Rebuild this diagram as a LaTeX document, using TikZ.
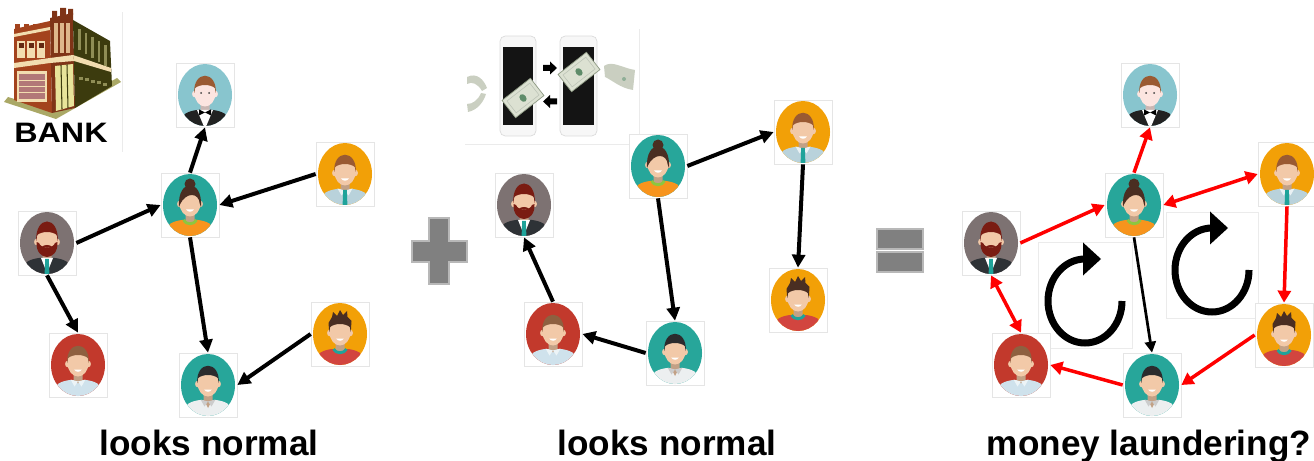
\documentclass[tikz,border=0pt]{standalone}
\usepackage{fontspec}
\usepackage{graphicx}
\usetikzlibrary{arrows.meta}
\newfontfamily\arialfont{Liberation Sans}

\definecolor{bluebg}{HTML}{88C5CE}
\definecolor{tealbg}{HTML}{27A69A}
\definecolor{orangebg}{HTML}{F2A007}
\definecolor{greybg}{HTML}{7D7272}
\definecolor{redbg}{HTML}{C2392C}
\definecolor{skin}{HTML}{F2C9A8}
\definecolor{paleskin}{HTML}{FCE5E0}
\definecolor{hairbrown}{HTML}{9A5A32}
\definecolor{hairlight}{HTML}{8E6040}
\definecolor{hairdark}{HTML}{4A2E22}
\definecolor{hairblack}{HTML}{2B2B2D}
\definecolor{hairred}{HTML}{7A1C12}
\definecolor{shirtorange}{HTML}{F7941D}
\definecolor{shirtblue}{HTML}{B9D2DB}
\definecolor{shirtpale}{HTML}{CFE2EC}
\definecolor{shirtwhite}{HTML}{ECEFF0}
\definecolor{shirtred}{HTML}{D2453F}
\definecolor{suit}{HTML}{2E3236}
\definecolor{waiterblack}{HTML}{222222}
\definecolor{tiegreen}{HTML}{1FA39A}
\definecolor{collargreen}{HTML}{8DC63F}
\definecolor{brick}{HTML}{A3431D}
\definecolor{darkolive}{HTML}{3C3B0E}
\definecolor{olivelight}{HTML}{8F8D55}
\definecolor{pavement}{HTML}{AAA866}
\definecolor{cream}{HTML}{F2DDB0}
\definecolor{rosewin}{HTML}{B27878}
\definecolor{glass}{HTML}{E8E49A}
\definecolor{bill}{HTML}{DCE1D2}
\definecolor{billedge}{HTML}{8E9A84}
\definecolor{seal}{HTML}{5F8C6A}

% one avatar, drawn inside its node: background, skin, shirt, body extras, head extras
\newcommand\avatar[5]{%
  \begin{scope}[shift={(path picture bounding box.center)}]
    \fill[#1] (0,0) ellipse [x radius=27, y radius=31];
    \begin{scope}
      \clip (0,0) ellipse [x radius=27, y radius=31];
      \fill[#3] (-24,-36) -- (-24,-26) .. controls (-24,-19) and (-16,-16) .. (-8,-15)
        -- (8,-15) .. controls (16,-16) and (24,-19) .. (24,-26) -- (24,-36) -- cycle;
      \fill[#2!80!black] (-4.5,-17) -- (-4.5,-6) -- (4.5,-6) -- (4.5,-17)
        .. controls (2,-18.5) and (-2,-18.5) .. (-4.5,-17) -- cycle;
      #4
    \end{scope}
    \fill[#2] (-10.5,1) ellipse [x radius=2.4, y radius=3.2]
              (10.5,1) ellipse [x radius=2.4, y radius=3.2];
    \fill[#2] (0,2) ellipse [x radius=10.5, y radius=13.5];
    #5
  \end{scope}}

\newcommand\avhair[1]{\fill[#1] (-10.8,2) .. controls (-12,25) and (12,25) .. (10.8,2)
  -- (9.8,7) .. controls (5,11) and (-5,11) .. (-9.8,7) -- cycle;}
\newcommand\avgrin{\fill[white] (-3.8,-4.5) .. controls (-2.5,-7.5) and (2.5,-7.5) .. (3.8,-4.5) -- cycle;}
\newcommand\aveyes{\fill[black!75] (-4,2) circle [radius=1] (4,2) circle [radius=1];}
\newcommand\avbow{%
  \fill[white] (-8,-15) -- (8,-15) -- (0,-34) -- cycle;
  \fill[black] (0,-17.5) -- (-6,-14.5) -- (-6,-20.5) -- cycle
               (0,-17.5) -- (6,-14.5) -- (6,-20.5) -- cycle;}
\newcommand\avbun{%
  \fill[hairdark] (0,21) circle [radius=5.5];
  \fill[hairdark] (-11,-2) .. controls (-13,27) and (13,27) .. (11,-2)
    -- (9.8,1) .. controls (9,13) and (-4,13) .. (-9.8,1) -- cycle;}
\newcommand\avcrew[1]{\draw[#1, line width=1.6pt] (-6.5,-15) .. controls (-4,-20) and (4,-20) .. (6.5,-15);}
\newcommand\avflaps[1]{\fill[#1] (-7.5,-14.5) -- (0,-16.5) -- (-3.5,-21.5) -- cycle
  (7.5,-14.5) -- (0,-16.5) -- (3.5,-21.5) -- cycle;}
\newcommand\avtie{\fill[tiegreen] (-1.8,-16) -- (1.8,-16) -- (2.6,-36) -- (-2.6,-36) -- cycle;}
\newcommand\avbeard{%
  \fill[hairred] (-10.8,2) .. controls (-12,28) and (12,28) .. (10.8,2)
    -- (9.8,8) .. controls (5,12) and (-5,12) .. (-9.8,8) -- cycle;
  \fill[hairred] (-10.5,1) .. controls (-11.5,-19) and (11.5,-19) .. (10.5,1)
    -- (8,0) .. controls (6,-6) and (-6,-6) .. (-8,0) -- cycle;
  \fill[hairred] (-5,-3.5) .. controls (-2,-1.5) and (2,-1.5) .. (5,-3.5)
    .. controls (2,-5) and (-2,-5) .. (-5,-3.5) -- cycle;}
\newcommand\avspikes{\fill[hairdark] (-10.8,2) -- (-11.5,11) -- (-8,17) -- (-7,22) -- (-3,18)
  -- (0,24) -- (3,19) -- (7,23) -- (7.5,17) -- (11.5,13) -- (10.8,2)
  -- (9.8,7) .. controls (5,11) and (-5,11) .. (-9.8,7) -- cycle;}
% round arrow: centre x, centre y
\newcommand\loopsign[2]{%
  \draw[cyclearrow] (#1+37,#2) arc [start angle=0, end angle=-270, x radius=37, y radius=42];
  \fill (#1-2,#2+58.5) -- (#1+16,#2+42) -- (#1-2,#2+25.5) -- cycle;}

\tikzset{
  person/.style={draw=black!10, fill=white, minimum width=1.16cm, minimum height=1.28cm, inner sep=0pt},
  waiter/.style={person, path picture={\avatar{bluebg}{paleskin}{waiterblack}{\avbow}{\avhair{hairbrown}\aveyes}}},
  hostess/.style={person, path picture={\avatar{tealbg}{skin}{shirtorange}{\avcrew{collargreen}}{\avbun\avgrin}}},
  clerk/.style={person, path picture={\avatar{orangebg}{skin}{shirtblue}{\avflaps{white!70!shirtblue}\avtie}{\avhair{hairbrown}\avgrin}}},
  bearded/.style={person, path picture={\avatar{greybg}{skin}{suit}{\fill[white] (-6,-15) -- (6,-15) -- (0,-30) -- cycle;\avtie}{\avbeard}}},
  student/.style={person, path picture={\avatar{redbg}{skin}{shirtpale}{\avflaps{white!60!shirtpale}}{\avhair{hairlight}\avgrin}}},
  engineer/.style={person, path picture={\avatar{tealbg}{skin}{shirtwhite}{\fill[skin!80!black] (-4,-15) -- (4,-15) -- (0,-23) -- cycle;\avflaps{white!80!black}}{\avhair{hairblack}\avgrin}}},
  youngster/.style={person, path picture={\avatar{orangebg}{skin}{shirtred}{\avcrew{tiegreen}}{\avspikes\avgrin}}},
  flow/.style={-{Triangle[length=0.26cm,width=0.26cm]}, line width=0.08cm},
  redflow/.style={-{Triangle[length=0.24cm,width=0.26cm]}, line width=0.07cm, red},
  redboth/.style={redflow, {Triangle[length=0.24cm,width=0.26cm]}-{Triangle[length=0.24cm,width=0.26cm]}},
  thinflow/.style={-{Triangle[length=0.22cm,width=0.22cm]}, line width=0.055cm},
  cyclearrow/.style={line width=0.14cm},
  tile/.style={draw=black!8, line width=0.4pt},
  sign/.style={fill=black!50, draw=black!28, line width=0.05cm},
  caption/.style={font=\arialfont\bfseries\fontsize{20}{24}\selectfont, anchor=base, inner sep=0pt},
}

\begin{document}
\begin{tikzpicture}[x=0.02cm, y=0.02cm]
  \useasboundingbox (0,0) rectangle (1314,460);

  % bank building (y runs downwards here)
  \begin{scope}[shift={(0,460)}, yscale=-1]
    \draw[tile] (122,12) -- (122,152);
    \fill[pavement] (4,102) -- (56,119) -- (121,82) -- (117,78) -- (56,112) -- (8,97) -- cycle;
    \fill[brick] (14,29) -- (50,21) -- (52,113) -- (14,100) -- cycle;
    \fill[brick!78!black] (50,18) -- (73,13) -- (75,108) -- (52,113) -- cycle;
    \fill[darkolive] (73,20) -- (110,41) -- (112,86) -- (75,108) -- cycle;
    \foreach \x in {15,24,33,42} \fill[brick] (\x,24) rectangle +(5,6);
    \fill[brick!78!black] (52,11) rectangle (57,19) (60,8) rectangle (66,16) (68,9) rectangle (73,15);
    \fill[cream] (14,34) -- (50,27) -- (50,30) -- (14,37) -- cycle;
    \fill[cream] (14,63) -- (50,58) -- (50,63) -- (14,68) -- cycle;
    \fill[cream] (50,58) -- (73,55) -- (74,61) -- (50,63) -- cycle;
    \fill[cream] (73,55) -- (111,68) -- (111,72) -- (74,61) -- cycle;
    \foreach \x in {17,27,37} {
      \fill[cream] (\x,41) rectangle +(8,17);
      \fill[brick!60!black] (\x+1.5,43) rectangle +(5,5);
    }
    \fill[cream] (17,71) rectangle (47,102);
    \fill[rosewin] (19,74) rectangle (45,99);
    \foreach \y in {80,86,92} \draw[cream, line width=0.5pt] (19,\y) -- (45,\y);
    \foreach \x in {54,60,66} \fill[cream!75!brick] (\x,23) rectangle +(3.5,30);
    \fill[glass] (55,66) -- (73,64) -- (74,106) -- (56,111) -- cycle;
    \draw[darkolive, line width=0.6pt] (61,65) -- (62,109) (67,64.5) -- (68,108);
    \foreach \i in {0,...,4} \fill[olivelight] (78+6.5*\i,29+4*\i) rectangle +(2.5,21);
    \foreach \i in {0,...,4} \fill[olivelight] (79+6*\i,77+1.5*\i) rectangle +(4,3);
  \end{scope}
  \node[inner sep=0pt] (bank) at (61,327) {\arialfont\bfseries\fontsize{16}{16}\selectfont\scalebox{1.15}[1]{BANK}};

  % phones passing money (y runs downwards here)
  \begin{scope}[shift={(0,460)}, yscale=-1]
    \draw[tile] (465,144) -- (639,144) -- (639,29);
    \draw[black!14, fill=black!3, rounded corners=3] (500,36) rectangle (536,136);
    \draw[black!14, fill=black!3, rounded corners=3] (560,36) rectangle (597,136);
    \fill[black!92] (503,47) rectangle (533,125);
    \fill[black!92] (563,47) rectangle (594,125);
    \foreach \cx/\cy in {523/98, 579/72} {
      \begin{scope}[shift={(\cx,\cy)}, rotate=-38]
        \draw[billedge, fill=bill] (-18,-11) rectangle (18,11);
        \draw[billedge!60, line width=0.3pt] (-14.5,-7.5) rectangle (14.5,7.5);
        \fill[seal] (0,0) ellipse [x radius=3.2, y radius=4.2];
      \end{scope}
    }
    \fill[black] (543,65) -- (550,65) -- (550,61.5) -- (557,68) -- (550,74.5) -- (550,71) -- (543,71) -- cycle;
    \fill[black] (557,98.5) -- (550,98.5) -- (550,95) -- (543,101.5) -- (550,108) -- (550,104.5) -- (557,104.5) -- cycle;
    \fill[bill!92!black] (467,77) .. controls (477,72) and (484,80) .. (487,88)
      -- (482,91) .. controls (478,84) and (472,81) .. (467,84) -- cycle;
    \fill[bill!92!black] (468,112) .. controls (478,110) and (484,101) .. (486,94)
      -- (481,93) .. controls (478,100) and (473,104) .. (467,104) -- cycle;
    \fill[bill!92!black] (604,66) .. controls (612,60) and (622,68) .. (635,70)
      -- (633,90) .. controls (620,88) and (612,80) .. (605,77) -- cycle;
    \fill[seal!70] (624,79) circle [radius=2];
  \end{scope}

  % first graph
  \node[waiter] (a1) at (205,365) {};
  \node[hostess] (a2) at (190,255) {};
  \node[clerk] (a3) at (345,286) {};
  \node[bearded] (a4) at (47,217) {};
  \node[student] (a5) at (78,95) {};
  \node[engineer] (a6) at (208,75) {};
  \node[youngster] (a7) at (340,126) {};
  \draw [flow] (a4.east) -- (a2.west);
  \draw [flow] (a2.north) -- (a1.south);
  \draw [flow] (a3.west) -- (a2.east);
  \draw [flow] (a4.south) -- (a5.north);
  \draw [flow] (a2.south) -- (a6.north);
  \draw [flow] (a7.west) -- (a6.east);

  % plus
  \draw[sign] (429,242) -- (449,242) -- (449,219) -- (467,219) -- (467,198) -- (449,198)
    -- (449,176) -- (429,176) -- (429,198) -- (412,198) -- (412,219) -- (429,219) -- cycle;

  % second graph
  \node[hostess] (b2) at (658,294) {};
  \node[clerk] (b3) at (803,328) {};
  \node[bearded] (b4) at (524,255) {};
  \node[student] (b5) at (553,126) {};
  \node[engineer] (b6) at (675,107) {};
  \node[youngster] (b7) at (798,160) {};
  \draw [flow] (b2.east) -- (b3.west);
  \draw [flow] (b2.south) -- (b6.north);
  \draw [flow] (b3.south) -- (b7.north);
  \draw [flow] (b6.west) -- (b5.east);
  \draw [flow] (b5.north) -- (b4.south);

  % equals
  \draw[sign] (877,211) rectangle (923,231);
  \draw[sign] (877,188) rectangle (923,208);

  % loops
  \draw[tile] (1038,112) rectangle (1132,218);
  \draw[tile] (1166,142) rectangle (1258,248);
  \loopsign{1085}{159}
  \loopsign{1212}{190}

  % combined graph
  \node[waiter] (c1) at (1150,365) {};
  \node[hostess] (c2) at (1134,255) {};
  \node[clerk] (c3) at (1287,286) {};
  \node[bearded] (c4) at (991,217) {};
  \node[student] (c5) at (1021,95) {};
  \node[engineer] (c6) at (1152,75) {};
  \node[youngster] (c7) at (1284,125) {};
  \draw [redflow] (c4.east) -- (c2.west);
  \draw [redflow] (c2.north) -- (c1.south);
  \draw [redboth] (c2.east) -- (c3.west);
  \draw [redflow] (c3.south) -- (c7.north);
  \draw [redflow] (c7.west) -- (c6.east);
  \draw [redflow] (c6.west) -- (c5.east);
  \draw [redboth] (c4.south) -- (c5.north);
  \draw [thinflow] (c2.south) -- (c6.north);

  \node[caption] (t1) at (209,5) {looks normal};
  \node[caption] (t2) at (667,5) {looks normal};
  \node[caption] (t3) at (1149,5) {money laundering?};
\end{tikzpicture}
\end{document}
